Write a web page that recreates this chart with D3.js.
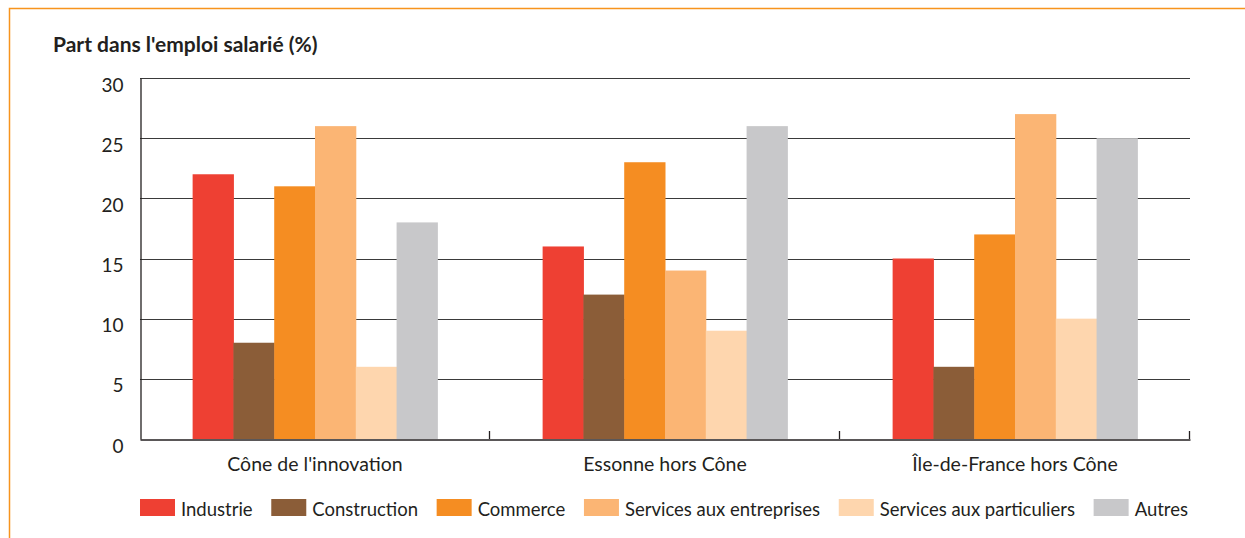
<!DOCTYPE html>
<html>
<head>
<meta charset="utf-8">
<script src="https://cdn.jsdelivr.net/npm/d3@7"></script>
<style>
  html, body { margin: 0; padding: 0; background: #fff; }
  svg { display: block; font-family: Lato, "Open Sans", sans-serif; }
</style>
</head>
<body>
<svg id="chart" width="1245" height="538"></svg>
<script>
// Zones and sectors
const zones = ["Cône de l'innovation", "Essonne hors Cône", "Île-de-France hors Cône"];
const sectors = ["Industrie", "Construction", "Commerce", "Services aux entreprises", "Services aux particuliers", "Autres"];
const sectorColors = ["#ee4033", "#8b5d38", "#f58d22", "#fbb574", "#fed6ae", "#c8c8ca"];

// Share of salaried employment (%) by sector, one array per sector (zones in order)
const industrie = [22, 16, 15];
const construction = [8, 12, 6];
const commerce = [21, 23, 17];
const servicesEntreprises = [26, 14, 27];
const servicesParticuliers = [6, 9, 10];
const autres = [18, 26, 25];

const yTicks = [0, 5, 10, 15, 20, 25, 30];

const series = [industrie, construction, commerce, servicesEntreprises, servicesParticuliers, autres];

const svg = d3.select("#chart");
const margin = { left: 140, right: 55, top: 78, bottom: 99 };
const W = 1245, H = 538;
const x0 = margin.left, x1 = W - margin.right;
const y0 = H - margin.bottom, y1 = margin.top;

// Frame
svg.append("path")
  .attr("d", `M9.5,${H} L9.5,8.5 L${W},8.5`)
  .attr("fill", "none").attr("stroke", "#f7941d").attr("stroke-width", 1.5);

// Title
svg.append("text")
  .attr("x", 53).attr("y", 52)
  .attr("font-size", 21).attr("font-weight", 700).attr("fill", "#231f20")
  .text("Part dans l'emploi salarié (%)");

const x = d3.scaleBand().domain(zones).range([x0, x1]).paddingInner(0).paddingOuter(0);
const xs = d3.scaleBand().domain(sectors).range([0, x.bandwidth()]).paddingOuter(1.29).paddingInner(0);
const y = d3.scaleLinear().domain([0, 30]).range([y0, y1]);

// Gridlines
svg.append("g").selectAll("line").data(yTicks.filter(t => t > 0)).join("line")
  .attr("x1", x0).attr("x2", x1)
  .attr("y1", d => Math.round(y(d)) + 0.5).attr("y2", d => Math.round(y(d)) + 0.5)
  .attr("stroke", "#3a3a3a").attr("stroke-width", 1);

// Bars
const groups = svg.append("g").selectAll("g").data(zones).join("g")
  .attr("transform", d => `translate(${x(d)},0)`);
groups.selectAll("rect")
  .data((z, zi) => sectors.map((s, si) => ({ s, si, v: series[si][zi] })))
  .join("rect")
  .attr("x", d => xs(d.s))
  .attr("width", xs.bandwidth() + 0.5)
  .attr("y", d => y(d.v))
  .attr("height", d => y(0) - y(d.v))
  .attr("fill", d => sectorColors[d.si]);

// Y axis (labels sit slightly below their gridline)
const yAxis = d3.axisLeft(y).tickValues(yTicks).tickSize(0).tickPadding(17);
const gy = svg.append("g").attr("transform", `translate(${x0 + 0.5},0)`).call(yAxis);
gy.select(".domain").attr("stroke", "#231f20").attr("stroke-width", 1.3);
gy.selectAll("text").attr("font-size", 19).attr("fill", "#231f20")
  .attr("font-family", "Lato, sans-serif").attr("transform", "translate(0,7)");

// X axis: baseline and separator ticks pointing up
const xAxis = d3.axisBottom(x).tickSize(0).tickPadding(18);
const gx = svg.append("g").attr("transform", `translate(0,${Math.round(y0) + 0.5})`).call(xAxis);
gx.select(".domain").attr("stroke", "#231f20").attr("stroke-width", 1.3);
gx.selectAll("text").attr("font-size", 19.5).attr("fill", "#231f20").attr("font-family", "Lato, sans-serif");
svg.append("g").selectAll("line").data(zones).join("line")
  .attr("x1", d => Math.round(x(d) + x.bandwidth()) - 0.5)
  .attr("x2", d => Math.round(x(d) + x.bandwidth()) - 0.5)
  .attr("y1", Math.round(y0)).attr("y2", Math.round(y0) - 8)
  .attr("stroke", "#231f20").attr("stroke-width", 1.3);

// Legend
const legend = svg.append("g");
const sw = 35, sh = 17, tgap = 6;
const items = legend.selectAll("g").data(sectors).join("g");
items.append("rect").attr("width", sw).attr("height", sh).attr("y", 499)
  .attr("fill", (d, i) => sectorColors[i]);
items.append("text").attr("x", sw + tgap).attr("y", 516)
  .attr("font-size", 18.5).attr("fill", "#231f20").text(d => d);
const widths = [];
items.each(function () { widths.push(sw + tgap + d3.select(this).select("text").node().getComputedTextLength()); });
const total = d3.sum(widths);
const gap = (x1 - 2 - x0 - total) / (sectors.length - 1);
let cx = x0;
items.attr("transform", (d, i) => { const t = `translate(${cx},0)`; cx += widths[i] + gap; return t; });
</script>
</body>
</html>
